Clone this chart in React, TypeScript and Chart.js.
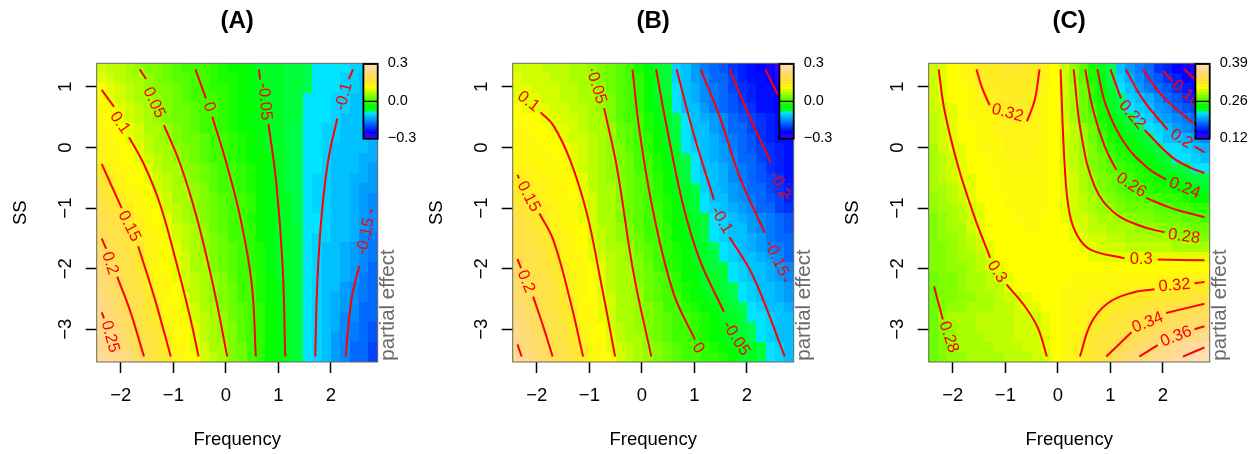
import React, { useEffect, useRef } from "react";
import { Chart, registerables } from "chart.js";

Chart.register(...registerables);

const FONT = "'Liberation Sans', Arial, sans-serif";

const gridX = [-2.371, -2.193, -2.014, -1.836, -1.658, -1.479, -1.301, -1.123, -0.944, -0.766, -0.588, -0.409, -0.231, -0.053, 0.126, 0.304, 0.482, 0.661, 0.839, 1.017, 1.196, 1.374, 1.552, 1.731, 1.909, 2.087, 2.266, 2.444, 2.622, 2.801];
const gridY = [1.308, 1.144, 0.979, 0.815, 0.651, 0.486, 0.322, 0.158, -0.006, -0.171, -0.335, -0.499, -0.664, -0.828, -0.992, -1.157, -1.321, -1.485, -1.65, -1.814, -1.978, -2.143, -2.307, -2.471, -2.636, -2.8, -2.964, -3.128, -3.293, -3.457];
const xTicks = [-2, -1, 0, 1, 2];
const yTicks = [-3, -2, -1, 0, 1];

// Panel A cells, in hundredths of the partial effect
const cellsA = [
  [9,8,8,6,5,4,4,3,2,1,0,0,-1,-2,-3,-3,-4,-5,-5,-6,-7,-7,-8,-9,-9,-9,-9,-10,-10,-11],
  [10,9,8,7,6,5,4,3,2,2,1,0,-1,-2,-2,-3,-4,-5,-5,-6,-7,-7,-8,-9,-9,-9,-10,-10,-11,-11],
  [11,10,9,8,6,5,4,4,3,2,1,0,-1,-1,-2,-3,-4,-4,-5,-6,-7,-7,-8,-9,-9,-9,-10,-10,-11,-11],
  [11,10,9,8,7,6,5,4,3,2,1,1,0,-1,-2,-3,-4,-4,-5,-6,-7,-7,-9,-9,-9,-10,-10,-11,-11,-12],
  [12,11,10,9,8,6,5,4,3,3,2,1,0,-1,-2,-3,-3,-4,-5,-6,-7,-7,-9,-9,-9,-10,-10,-11,-11,-12],
  [12,11,10,9,8,7,5,4,3,3,2,1,0,-1,-2,-3,-4,-4,-5,-6,-7,-7,-9,-9,-9,-10,-11,-11,-12,-12],
  [13,12,11,10,9,7,6,5,4,3,2,1,0,-1,-2,-3,-3,-4,-5,-6,-7,-8,-9,-9,-10,-10,-11,-11,-12,-12],
  [14,12,11,10,9,8,6,5,4,3,3,2,1,0,-1,-2,-3,-4,-5,-6,-7,-8,-9,-9,-10,-10,-11,-12,-12,-13],
  [14,13,12,11,10,8,7,6,5,4,3,2,1,0,-1,-2,-3,-4,-5,-6,-7,-8,-9,-9,-10,-11,-11,-12,-12,-13],
  [14,13,12,11,10,9,8,6,5,4,3,2,1,0,-1,-2,-3,-3,-4,-5,-7,-8,-9,-9,-10,-11,-11,-12,-13,-13],
  [15,14,13,12,11,10,8,7,6,5,4,3,2,1,0,-1,-2,-3,-4,-5,-7,-8,-9,-9,-10,-11,-12,-12,-13,-14],
  [16,15,14,12,11,10,9,8,6,5,4,3,2,1,0,-1,-2,-3,-4,-5,-7,-8,-9,-10,-10,-11,-12,-13,-13,-14],
  [17,15,14,13,12,11,9,8,7,6,5,4,2,1,0,-1,-2,-3,-4,-5,-7,-8,-9,-10,-10,-11,-12,-13,-14,-14],
  [18,16,15,14,13,11,10,9,7,6,5,4,3,2,1,0,-1,-3,-4,-5,-6,-8,-9,-10,-10,-11,-12,-13,-14,-15],
  [19,17,16,15,13,12,11,9,8,7,5,4,3,2,1,0,-1,-3,-4,-5,-6,-8,-9,-10,-10,-11,-12,-13,-14,-15],
  [20,19,17,16,14,13,11,10,8,7,5,4,3,2,1,0,-2,-3,-4,-5,-6,-8,-9,-9,-10,-11,-12,-13,-14,-15],
  [20,19,18,16,15,13,12,10,9,8,6,5,3,2,1,0,-1,-3,-4,-5,-6,-7,-9,-9,-10,-11,-12,-13,-14,-15],
  [21,19,18,17,15,14,12,11,9,8,6,5,4,3,1,0,-1,-3,-4,-5,-6,-7,-9,-10,-10,-11,-12,-13,-15,-16],
  [21,20,19,17,16,14,13,11,10,8,7,5,4,3,2,1,-1,-2,-4,-5,-6,-7,-9,-10,-11,-12,-13,-14,-15,-16],
  [22,20,19,18,16,14,13,11,10,9,7,6,4,3,2,1,-1,-2,-4,-5,-6,-7,-9,-10,-11,-12,-13,-14,-15,-16],
  [22,21,19,18,16,14,13,11,10,9,7,6,4,3,2,1,-1,-2,-4,-5,-6,-7,-9,-10,-11,-12,-13,-14,-15,-17],
  [23,21,20,18,17,15,13,12,10,9,8,6,5,4,2,1,0,-2,-3,-5,-6,-7,-9,-10,-11,-12,-13,-14,-16,-17],
  [23,22,20,19,17,15,14,12,11,9,8,7,5,4,3,1,0,-2,-3,-4,-6,-7,-9,-10,-11,-12,-14,-15,-16,-17],
  [24,22,21,19,18,16,14,13,11,10,8,7,5,4,3,1,0,-2,-3,-4,-6,-7,-9,-10,-11,-13,-14,-15,-16,-18],
  [24,23,21,20,18,16,15,13,12,10,9,7,6,4,3,2,0,-1,-3,-4,-6,-7,-9,-10,-12,-13,-14,-15,-17,-18],
  [25,23,22,20,18,17,15,13,12,11,9,8,6,5,3,2,0,-1,-3,-4,-6,-7,-9,-10,-12,-13,-15,-15,-17,-18],
  [25,24,22,21,19,17,16,14,12,11,10,8,7,5,4,2,1,-1,-3,-4,-6,-7,-9,-10,-12,-13,-15,-16,-17,-19],
  [26,24,23,21,19,18,16,15,13,11,10,8,7,5,4,2,1,-1,-3,-4,-6,-7,-9,-10,-12,-14,-15,-16,-18,-19],
  [26,25,23,22,20,18,17,15,13,12,10,9,7,6,4,3,1,-1,-3,-4,-6,-7,-9,-10,-12,-14,-15,-17,-18,-20],
  [27,26,24,23,21,19,17,16,14,12,11,9,8,6,4,3,1,-1,-3,-4,-6,-7,-9,-10,-12,-14,-15,-17,-18,-20],
];

// Panel B cells, in hundredths of the partial effect
const cellsB = [
  [9,9,9,8,8,8,7,7,5,4,3,2,0,-2,-4,-5,-7,-10,-12,-14,-16,-17,-19,-21,-22,-23,-25,-26,-28,-29],
  [10,9,9,9,8,8,7,7,5,4,3,2,0,-1,-3,-5,-7,-10,-12,-14,-15,-17,-18,-20,-22,-23,-24,-25,-27,-28],
  [10,10,9,9,9,8,8,7,6,5,3,2,1,-1,-3,-5,-7,-9,-11,-13,-15,-16,-18,-20,-21,-22,-23,-24,-26,-27],
  [10,10,10,9,9,8,8,7,6,5,4,2,1,-1,-3,-5,-6,-9,-11,-13,-15,-16,-18,-19,-21,-22,-23,-24,-25,-26],
  [11,10,10,10,9,9,8,8,7,5,4,2,1,-1,-3,-4,-6,-9,-11,-12,-14,-16,-17,-19,-20,-21,-23,-24,-25,-26],
  [11,11,11,10,10,9,9,8,7,6,4,2,1,0,-2,-4,-5,-8,-9,-11,-13,-14,-15,-17,-19,-20,-21,-22,-23,-24],
  [12,12,11,11,10,10,9,8,7,6,5,3,2,0,-2,-3,-5,-7,-9,-11,-12,-14,-15,-17,-18,-20,-21,-22,-23,-24],
  [12,12,12,11,11,10,9,9,8,6,5,3,2,1,-1,-3,-5,-7,-9,-11,-12,-13,-15,-16,-18,-19,-21,-22,-23,-24],
  [13,13,12,12,11,11,10,9,8,6,5,4,2,1,-1,-3,-4,-6,-9,-10,-12,-13,-14,-16,-17,-19,-20,-21,-22,-23],
  [13,13,13,12,12,11,10,9,8,7,5,4,3,1,0,-2,-4,-6,-8,-9,-11,-13,-14,-15,-17,-18,-20,-21,-22,-23],
  [14,14,13,13,12,12,10,9,8,6,5,4,3,1,0,-2,-3,-5,-7,-9,-11,-12,-13,-15,-16,-18,-19,-21,-22,-23],
  [15,14,14,13,13,12,11,10,8,7,5,4,3,2,0,-1,-3,-5,-7,-9,-10,-12,-13,-15,-16,-17,-19,-20,-21,-23],
  [15,15,14,14,13,12,11,10,8,7,6,4,3,2,0,-1,-3,-4,-6,-8,-10,-11,-13,-14,-15,-17,-18,-20,-21,-22],
  [16,16,15,14,13,13,12,10,9,7,6,4,3,2,1,-1,-2,-4,-6,-7,-9,-11,-12,-14,-15,-16,-18,-19,-20,-22],
  [17,16,15,15,14,13,12,10,9,7,6,5,3,2,1,0,-2,-3,-5,-7,-9,-10,-11,-13,-14,-15,-17,-18,-20,-21],
  [18,17,16,15,14,13,12,10,9,7,6,4,3,2,1,0,-2,-3,-4,-6,-7,-9,-10,-11,-13,-14,-15,-16,-18,-19],
  [18,17,16,15,14,13,12,11,9,8,6,5,4,2,1,0,-1,-3,-4,-5,-7,-9,-10,-11,-12,-14,-15,-16,-17,-19],
  [19,18,17,16,15,14,12,11,9,8,7,5,4,3,1,0,-1,-3,-4,-5,-7,-9,-10,-11,-12,-13,-14,-16,-17,-18],
  [19,18,17,16,15,14,13,11,10,8,7,6,5,3,2,0,-1,-2,-3,-5,-6,-8,-9,-10,-11,-13,-14,-15,-16,-17],
  [20,19,18,17,15,14,13,12,10,9,8,6,5,4,2,1,-1,-2,-3,-5,-6,-7,-9,-10,-11,-12,-13,-14,-15,-17],
  [21,19,19,17,16,15,13,12,11,10,8,7,6,4,3,1,-1,-2,-3,-4,-6,-7,-7,-9,-10,-11,-12,-13,-14,-15],
  [21,20,19,18,16,15,14,12,11,10,8,7,6,4,3,2,0,-1,-3,-4,-5,-6,-7,-9,-10,-11,-12,-13,-14,-15],
  [22,20,19,18,17,15,14,13,11,10,8,7,6,5,3,2,0,-1,-2,-3,-5,-6,-7,-8,-9,-10,-11,-12,-13,-14],
  [22,21,20,18,17,16,14,13,11,10,9,7,6,5,3,2,1,0,-2,-3,-4,-5,-6,-8,-9,-10,-11,-12,-13,-14],
  [23,21,20,19,17,16,15,13,12,10,9,7,6,5,4,3,1,0,-1,-2,-3,-4,-6,-7,-8,-9,-10,-11,-12,-13],
  [23,22,21,19,18,16,15,13,12,10,9,7,6,5,4,3,2,1,0,-1,-2,-3,-5,-6,-7,-9,-9,-10,-11,-12],
  [24,22,21,20,18,17,15,14,12,11,9,8,7,5,4,3,2,1,0,-1,-2,-3,-4,-5,-7,-8,-9,-10,-11,-12],
  [24,23,22,20,19,17,16,14,13,11,10,8,7,6,4,3,2,1,0,-1,-2,-3,-4,-5,-6,-8,-9,-10,-11,-12],
  [25,23,22,21,19,18,16,15,13,12,10,9,8,6,5,4,3,2,1,0,-1,-2,-3,-4,-5,-6,-7,-9,-10,-11],
  [26,24,23,21,20,18,17,15,13,12,11,9,8,7,5,4,3,2,1,0,-1,-1,-2,-3,-5,-6,-7,-9,-10,-11],
];

// Panel C cells, in thousandths of the partial effect
const cellsC = [
  [297,302,306,309,316,321,323,325,326,326,325,322,316,306,294,280,264,248,233,219,206,195,184,174,163,154,146,138,132,126],
  [296,301,305,309,315,320,322,324,325,325,324,321,315,306,294,281,265,249,235,221,210,198,188,179,170,161,153,146,139,133],
  [295,300,305,308,313,318,321,323,324,324,323,320,314,306,295,282,267,251,237,223,215,205,193,184,176,170,163,155,148,142],
  [294,299,304,308,311,316,319,321,323,323,322,319,313,307,295,283,268,254,240,228,220,210,203,196,187,179,172,163,156,150],
  [293,298,303,307,310,314,317,319,322,322,321,318,312,307,296,284,270,258,245,232,224,212,207,201,194,186,179,172,164,157],
  [291,296,302,306,309,312,314,316,319,321,320,316,312,308,297,285,271,262,249,237,229,224,215,208,200,193,187,181,175,170],
  [290,295,301,305,308,311,313,315,317,319,319,316,312,308,299,288,279,266,253,244,236,230,223,216,210,203,195,190,184,177],
  [288,294,300,304,307,310,312,314,316,318,317,315,311,308,298,290,280,268,257,249,242,236,230,224,216,206,201,196,191,186],
  [287,293,299,303,306,309,311,313,315,316,316,314,311,308,297,289,281,272,262,254,248,241,235,229,223,216,212,208,204,198],
  [286,291,297,302,305,308,310,312,314,315,315,313,311,308,298,291,282,274,266,259,253,248,244,236,230,224,216,212,208,204],
  [285,289,295,301,304,307,309,311,313,314,314,313,311,308,300,292,283,276,270,264,257,251,246,240,234,229,225,222,216,213],
  [284,288,294,299,303,306,308,310,312,313,313,312,311,308,301,293,285,278,272,267,262,257,252,248,243,238,234,230,227,224],
  [283,287,292,297,302,305,307,309,311,312,312,311,310,308,302,294,287,280,275,270,265,260,257,252,249,246,243,240,236,233],
  [281,285,290,295,300,304,306,308,310,311,311,310,309,307,302,295,289,283,278,274,269,265,262,259,256,253,250,247,244,241],
  [278,282,287,292,298,303,306,307,309,310,310,310,309,307,303,297,291,286,281,279,275,271,268,266,263,261,258,256,253,251],
  [275,279,283,288,296,303,306,307,308,309,309,309,308,306,303,298,293,289,286,284,281,278,276,273,271,268,266,264,262,260],
  [274,278,282,287,294,300,305,307,308,308,309,309,308,307,304,300,296,292,289,287,285,283,281,279,277,275,273,272,270,268],
  [273,277,281,285,290,297,304,306,307,307,308,308,308,307,305,302,299,296,293,291,289,287,285,284,283,282,281,280,278,276],
  [272,276,280,284,288,293,300,305,306,306,307,307,307,307,306,304,302,299,297,295,294,292,291,290,289,288,287,286,285,284],
  [272,275,278,282,286,290,298,304,305,306,306,306,307,307,306,305,304,303,302,301,300,300,299,299,299,299,299,299,299,299],
  [272,274,277,281,284,288,294,302,305,306,306,306,307,307,307,307,307,306,306,306,306,306,306,306,307,307,307,307,307,307],
  [271,273,276,280,283,287,290,296,303,305,306,306,307,308,308,309,309,310,310,311,311,312,312,313,313,313,314,315,315,316],
  [271,272,275,279,282,285,288,291,299,304,306,306,307,308,309,310,311,312,313,314,315,316,316,317,318,319,321,322,323,325],
  [270,272,275,278,281,284,286,289,294,298,303,305,307,308,309,311,313,315,317,319,321,322,323,325,326,327,329,330,332,333],
  [270,274,277,280,282,284,286,288,291,294,299,303,306,308,310,313,315,317,321,323,325,327,329,331,333,335,337,339,341,343],
  [270,279,282,285,287,288,290,291,292,294,296,298,302,305,310,313,316,321,325,328,331,333,335,338,340,342,344,346,348,350],
  [269,275,281,284,286,288,289,291,292,293,295,297,301,305,309,314,318,322,326,329,331,334,340,343,346,349,352,355,357,360],
  [268,273,279,283,285,286,288,290,291,293,294,296,300,306,310,316,321,327,331,334,337,342,345,349,353,356,360,364,368,372],
  [268,272,277,282,284,285,287,288,290,291,293,295,299,306,311,316,323,328,333,339,344,348,353,358,362,366,370,374,377,381],
  [268,272,278,281,283,284,286,287,289,291,292,294,298,306,311,316,322,329,335,344,349,355,360,364,369,373,377,381,385,389],
];

const contoursA = [
  [[-2.365,-2.72],[-2.32,-2.82]],
  [[-2.365,-1.5],[-2.28,-1.67]],
  [[-2.07,-2.13],[-1.83,-2.68],[-1.56,-3.45]],
  [[-2.365,-0.27],[-1.985,-1.0]],
  [[-1.67,-1.63],[-1.35,-2.51],[-1.05,-3.45]],
  [[-2.365,0.95],[-2.13,0.67]],
  [[-1.845,0.17],[-1.57,-0.26],[-1.26,-0.92],[-0.94,-1.91],[-0.685,-2.79],[-0.52,-3.45]],
  [[-1.64,1.29],[-1.52,1.13]],
  [[-1.18,0.37],[-0.875,-0.26],[-0.56,-1.14],[-0.24,-2.29],[0.025,-3.45]],
  [[-0.58,1.29],[-0.38,0.81]],
  [[-0.26,0.51],[0.01,-0.26],[0.27,-1.14],[0.49,-2.24],[0.57,-3.45]],
  [[0.63,1.29],[0.65,1.12]],
  [[0.81,0.39],[0.96,-0.59],[1.08,-1.96],[1.13,-3.45]],
  [[2.42,1.29],[2.34,1.13]],
  [[2.12,0.48],[1.95,-0.2],[1.82,-1.14],[1.74,-2.24],[1.7,-3.45]],
  [[2.78,-1.02],[2.75,-1.08]],
  [[2.54,-1.95],[2.39,-2.51],[2.28,-3.45]],
];
const contoursB = [
  [[-2.37,-3.25],[-2.29,-3.45]],
  [[-2.37,-1.84],[-2.3,-1.99]],
  [[-2.07,-2.46],[-1.88,-2.95],[-1.7,-3.45]],
  [[-2.37,-0.45],[-2.34,-0.51]],
  [[-1.95,-1.09],[-1.69,-1.52],[-1.37,-2.51],[-1.12,-3.45]],
  [[-1.93,0.58],[-1.69,0.37],[-1.37,-0.2],[-1.05,-1.08],[-0.8,-2.13],[-0.51,-3.45]],
  [[-0.96,1.29],[-0.95,1.27]],
  [[-0.72,0.65],[-0.48,-0.31],[-0.16,-2.07],[0.18,-3.45]],
  [[-0.18,1.29],[-0.04,0.24],[0.22,-1.08],[0.6,-2.4],[1.01,-3.17]],
  [[0.27,1.29],[0.47,0.35],[0.79,-0.97],[1.1,-1.85],[1.56,-2.71]],
  [[0.66,1.29],[0.98,0.24],[1.37,-0.86]],
  [[1.67,-1.48],[2.12,-2.13],[2.72,-3.45]],
  [[1.12,1.29],[1.48,0.51],[1.86,-0.48],[2.34,-1.41]],
  [[2.71,-2.18],[2.75,-2.21]],
  [[1.67,1.29],[2.02,0.57],[2.45,-0.24]],
  [[2.75,-0.81],[2.78,-0.85]],
  [[2.35,1.29],[2.59,0.87]],
];
const contoursC = [
  [[-2.36,-2.29],[-2.19,-2.84]],
  [[-2.27,1.29],[-2.16,0.62],[-1.9,-0.31],[-1.59,-1.14],[-1.29,-1.82]],
  [[-0.98,-2.26],[-0.63,-2.62],[-0.38,-2.98],[-0.21,-3.45]],
  [[-1.55,1.29],[-1.45,1.0],[-1.3,0.7]],
  [[-0.59,0.43],[-0.44,0.79],[-0.35,1.29]],
  [[0.05,1.29],[0.13,-0.31],[0.22,-1.08],[0.38,-1.47],[0.63,-1.69],[1.27,-1.83]],
  [[1.9,-1.85],[2.79,-1.86]],
  [[0.3,1.29],[0.44,0.24],[0.7,-0.64],[1.08,-1.08],[1.59,-1.3],[2.03,-1.4]],
  [[0.52,1.29],[0.67,0.62],[0.89,0.02],[1.11,-0.37]],
  [[1.68,-0.83],[2.16,-1.0],[2.79,-1.15]],
  [[0.75,1.29],[0.92,0.68],[1.27,0.07],[1.71,-0.34],[2.06,-0.53]],
  [[1.0,1.29],[1.2,0.81]],
  [[1.65,0.29],[2.16,-0.15],[2.54,-0.34],[2.79,-0.42]],
  [[1.29,1.29],[1.62,0.79],[2.09,0.29]],
  [[2.6,0.02],[2.79,-0.08]],
  [[1.62,1.29],[1.97,0.87],[2.57,0.4]],
  [[2.0,1.27],[2.19,1.09]],
  [[2.41,1.29],[2.59,1.14]],
  [[0.42,-3.45],[0.63,-2.9],[0.95,-2.57],[1.4,-2.4],[1.84,-2.34]],
  [[2.6,-2.24],[2.79,-2.22]],
  [[0.92,-3.45],[1.4,-3.05]],
  [[2.06,-2.73],[2.79,-2.58]],
  [[1.55,-3.45],[1.9,-3.26]],
  [[2.6,-3.0],[2.79,-2.95]],
  [[2.38,-3.45],[2.79,-3.3]],
];

const contourLabelsA = [
  { text: "0.25", x: -2.207, y: -3.12, angle: 75 },
  { text: "0.2", x: -2.207, y: -1.91, angle: 72 },
  { text: "0.15", x: -1.84, y: -1.3, angle: 63 },
  { text: "0.1", x: -2.02, y: 0.41, angle: 55 },
  { text: "0.05", x: -1.37, y: 0.74, angle: 65 },
  { text: "0", x: -0.32, y: 0.67, angle: 70 },
  { text: "-0.05", x: 0.74, y: 0.76, angle: 85 },
  { text: "-0.1", x: 2.245, y: 0.84, angle: -75 },
  { text: "-0.15", x: 2.66, y: -1.47, angle: -78 },
];
const contourLabelsB = [
  { text: "0.2", x: -2.21, y: -2.21, angle: 68 },
  { text: "0.15", x: -2.16, y: -0.81, angle: 62 },
  { text: "0.1", x: -2.16, y: 0.76, angle: 38 },
  { text: "0.05", x: -0.86, y: 0.98, angle: 73 },
  { text: "0", x: 1.07, y: -3.31, angle: 55 },
  { text: "-0.05", x: 1.79, y: -3.15, angle: 58 },
  { text: "-0.1", x: 1.515, y: -1.2, angle: 60 },
  { text: "-0.15", x: 2.56, y: -1.83, angle: 65 },
  { text: "-0.2", x: 2.625, y: -0.62, angle: 65 },
];
const contourLabelsC = [
  { text: "0.28", x: -2.08, y: -3.13, angle: 72 },
  { text: "0.3", x: -1.16, y: -2.05, angle: 58 },
  { text: "0.32", x: -0.96, y: 0.57, angle: 15 },
  { text: "0.3", x: 1.585, y: -1.84, angle: 0 },
  { text: "0.28", x: 2.4, y: -1.47, angle: 8 },
  { text: "0.26", x: 1.395, y: -0.62, angle: 33 },
  { text: "0.24", x: 2.41, y: -0.67, angle: 22 },
  { text: "0.22", x: 1.41, y: 0.54, angle: 50 },
  { text: "0.2", x: 2.35, y: 0.14, angle: 33 },
  { text: "0.16", x: 2.44, y: 0.89, angle: 42 },
  { text: "0.32", x: 2.22, y: -2.28, angle: -5 },
  { text: "0.34", x: 1.71, y: -2.89, angle: -22 },
  { text: "0.36", x: 2.25, y: -3.12, angle: -22 },
];

const legendA = ["0.3", "0.0", "\u22120.3"];
const legendC = ["0.39", "0.26", "0.12"];

const panels = [
  { title: "(A)", left: 0, cells: cellsA, unit: 0.01, zMin: -0.3, zMax: 0.3, contours: contoursA, labels: contourLabelsA, legend: legendA },
  { title: "(B)", left: 416, cells: cellsB, unit: 0.01, zMin: -0.3, zMax: 0.3, contours: contoursB, labels: contourLabelsB, legend: legendA },
  { title: "(C)", left: 832, cells: cellsC, unit: 0.001, zMin: 0.12, zMax: 0.39, contours: contoursC, labels: contourLabelsC, legend: legendC },
];

function hsv(h: number, s: number, v: number) {
  const i = Math.floor(h * 6);
  const f = h * 6 - i;
  const p = v * (1 - s), q = v * (1 - f * s), t = v * (1 - (1 - f) * s);
  const [r, g, b] = [[v, t, p], [q, v, p], [p, v, t], [p, q, v], [t, p, v], [v, p, q]][i % 6];
  return `rgb(${Math.round(r * 255)},${Math.round(g * 255)},${Math.round(b * 255)})`;
}

// The 50 step blue-green-yellow-tan colour ramp
function buildRamp() {
  const out: string[] = [];
  const i = 18, j = 16, k = 16;
  for (let a = 0; a < i; a++) out.push(hsv((43 - (12 * a) / (i - 1)) / 60, 1, 1));
  for (let a = 0; a < j; a++) out.push(hsv((23 - (12 * a) / (j - 1)) / 60, 1, 1));
  for (let a = 0; a < k; a++) out.push(hsv((10 - (4 * a) / (k - 1)) / 60, 1 - (0.7 * a) / (k - 1), 1));
  return out;
}
const ramp = buildRamp();

const minus = (v: number) => (v < 0 ? "\u2212" + Math.abs(v) : String(v));

const heatPlugin = {
  id: "heatCells",
  beforeDatasetsDraw(chart: any, _a: any, opts: any) {
    const { ctx, chartArea: area, scales } = chart;
    const { zMin, zMax } = opts;
    const pts = chart.data.datasets[0].data;
    const edgeX = gridX.map((x, i) => (i === 0 ? area.left : Math.round(scales.x.getPixelForValue((gridX[i - 1] + x) / 2))));
    edgeX.push(area.right);
    const edgeY = gridY.map((y, j) => (j === 0 ? area.top : Math.round(scales.y.getPixelForValue((gridY[j - 1] + y) / 2))));
    edgeY.push(area.bottom);
    ctx.save();
    pts.forEach((p: any) => {
      const idx = Math.floor(((p.v - zMin) / (zMax - zMin)) * ramp.length + 1e-6);
      ctx.fillStyle = ramp[Math.max(0, Math.min(ramp.length - 1, idx))];
      ctx.fillRect(edgeX[p.i], edgeY[p.j], edgeX[p.i + 1] - edgeX[p.i], edgeY[p.j + 1] - edgeY[p.j]);
    });
    ctx.restore();
  },
};

const overlayPlugin = {
  id: "overlay",
  afterDatasetsDraw(chart: any, _a: any, opts: any) {
    const { ctx, chartArea: area, scales } = chart;
    ctx.save();
    // contour labels
    ctx.fillStyle = "#f00";
    ctx.font = `16.5px ${FONT}`;
    ctx.textAlign = "center";
    ctx.textBaseline = "middle";
    opts.labels.forEach((l: any) => {
      ctx.save();
      ctx.translate(scales.x.getPixelForValue(l.x), scales.y.getPixelForValue(l.y));
      ctx.rotate((l.angle * Math.PI) / 180);
      ctx.fillText(l.text, 0, 0);
      ctx.restore();
    });
    // plot frame
    ctx.strokeStyle = "#666";
    ctx.lineWidth = 1;
    ctx.strokeRect(area.left, area.top, area.right - area.left, area.bottom - area.top);
    // colour bar
    const barW = 14.3, barH = 74.7;
    const barL = area.right - barW, barT = area.top + 0.7;
    ramp.forEach((c, i) => {
      ctx.fillStyle = c;
      const y0 = barT + barH - ((i + 1) * barH) / ramp.length;
      ctx.fillRect(barL, y0, barW, barH / ramp.length + 0.5);
    });
    ctx.strokeStyle = "#000";
    ctx.lineWidth = 1.8;
    ctx.strokeRect(barL, barT, barW, barH);
    ctx.lineWidth = 1.2;
    ctx.beginPath();
    ctx.moveTo(barL, barT + barH / 2);
    ctx.lineTo(barL + barW, barT + barH / 2);
    ctx.stroke();
    // colour bar labels
    ctx.fillStyle = "#000";
    ctx.font = `14.5px ${FONT}`;
    ctx.textAlign = "left";
    opts.legend.forEach((t: string, i: number) => {
      ctx.fillText(t, area.right + 10, barT - 0.7 + (i * (barH + 0.3)) / 2);
    });
    // colour bar title
    ctx.save();
    ctx.translate(area.right + 10.6, area.bottom - 1.3);
    ctx.rotate(-Math.PI / 2);
    ctx.fillStyle = "#6a6a6a";
    ctx.font = `20.5px ${FONT}`;
    ctx.fillText("partial effect", 0, 0);
    ctx.restore();
    // y tick labels, turned as on the reference
    ctx.fillStyle = "#000";
    ctx.font = `18.5px ${FONT}`;
    ctx.textAlign = "center";
    yTicks.forEach((v) => {
      ctx.save();
      ctx.translate(area.left - 31, scales.y.getPixelForValue(v));
      ctx.rotate(-Math.PI / 2);
      ctx.fillText(minus(v), 0, 0);
      ctx.restore();
    });
    ctx.restore();
  },
};

function Panel({ spec }: { spec: (typeof panels)[number] }) {
  const ref = useRef<HTMLCanvasElement>(null);
  useEffect(() => {
    const points: any[] = [];
    spec.cells.forEach((row, j) =>
      row.forEach((c, i) => points.push({ x: gridX[i], y: gridY[j], v: c * spec.unit, i, j })),
    );
    const lines = spec.contours.map((seg) => ({
      type: "scatter" as const,
      data: seg.map(([x, y]) => ({ x, y })),
      showLine: true,
      borderColor: "#f00",
      borderWidth: 2,
      tension: 0.4,
      pointRadius: 0,
    }));
    const chart = new Chart(ref.current as HTMLCanvasElement, {
      type: "scatter",
      plugins: [heatPlugin, overlayPlugin],
      data: {
        datasets: [{ data: points, pointRadius: 0, showLine: false } as any, ...lines],
      },
      options: {
        responsive: false,
        animation: false,
        events: [],
        layout: { padding: { right: 42.3, left: 0, top: 0, bottom: 0 } },
        scales: {
          x: {
            type: "linear",
            min: -2.46,
            max: 2.89,
            afterBuildTicks: (s: any) => {
              s.ticks = xTicks.map((value) => ({ value }));
            },
            afterFit: (s: any) => {
              s.height = 92;
            },
            ticks: {
              autoSkip: false,
              maxRotation: 0,
              padding: 12,
              color: "#000",
              font: { family: FONT, size: 18.5 },
              callback: (v: any) => minus(Number(v)),
            },
            grid: { drawOnChartArea: false, drawTicks: true, tickLength: 11, tickColor: "#000", tickWidth: 1.5 } as any,
            border: { display: false },
            title: {
              display: true,
              text: "Frequency",
              color: "#000",
              font: { family: FONT, size: 18.5 },
              padding: { top: 0, bottom: 3 },
            },
          },
          y: {
            type: "linear",
            min: -3.54,
            max: 1.39,
            afterBuildTicks: (s: any) => {
              s.ticks = yTicks.map((value) => ({ value }));
            },
            afterFit: (s: any) => {
              s.width = 96.7;
            },
            ticks: { display: false },
            grid: { drawOnChartArea: false, drawTicks: true, tickLength: 11, tickColor: "#000", tickWidth: 1.5 } as any,
            border: { display: false },
            title: {
              display: true,
              text: "SS",
              color: "#000",
              font: { family: FONT, size: 18.5 },
              padding: { top: 9.6, bottom: 0 },
            },
          },
        },
        plugins: {
          legend: { display: false },
          tooltip: { enabled: false },
          title: {
            display: true,
            text: spec.title,
            fullSize: false,
            color: "#000",
            font: { family: FONT, size: 24, weight: "bold" },
            padding: { top: 7, bottom: 27.5 },
          },
          heatCells: { zMin: spec.zMin, zMax: spec.zMax },
          overlay: { labels: spec.labels, legend: spec.legend },
        } as any,
      },
    } as any);
    return () => chart.destroy();
  }, [spec]);
  return (
    <canvas
      ref={ref}
      width={420}
      height={454}
      style={{ position: "absolute", left: spec.left, top: 0, width: 420, height: 454 }}
    />
  );
}

export default function App() {
  return (
    <div style={{ position: "absolute", left: 0, top: 0, width: 1258, height: 454, background: "#fff", overflow: "hidden" }}>
      {panels.map((p) => (
        <Panel key={p.title} spec={p} />
      ))}
    </div>
  );
}
